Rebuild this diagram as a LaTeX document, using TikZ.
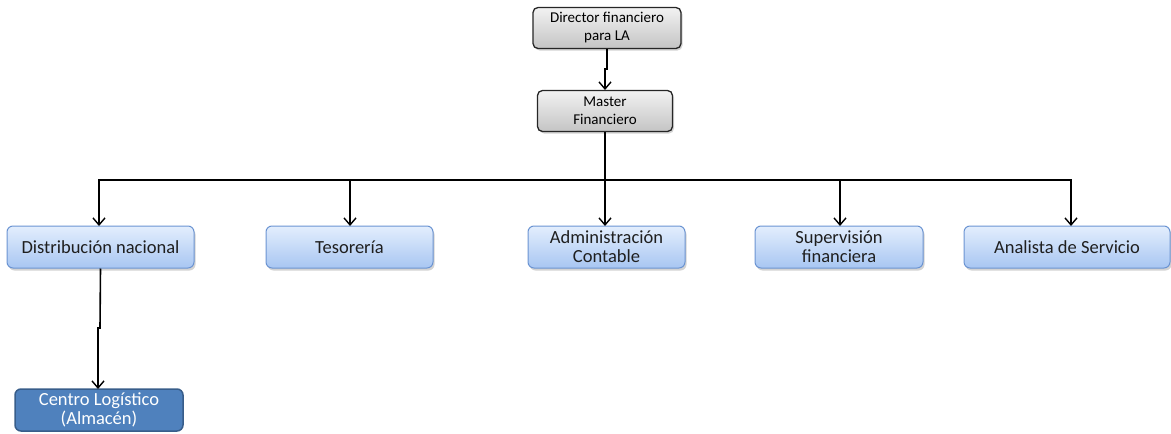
\documentclass[tikz,border=0pt]{standalone}
\usepackage{fontspec}
\setmainfont{Carlito}
\usetikzlibrary{arrows.meta,shadows}
\definecolor{gtop}{HTML}{F2F2F2}
\definecolor{gbot}{HTML}{C4C4C4}
\definecolor{btop}{HTML}{E3EEFD}
\definecolor{bbot}{HTML}{A8C6F2}
\definecolor{bline}{HTML}{6B94D2}
\definecolor{dfill}{HTML}{4F81BD}
\definecolor{dline}{HTML}{385D8A}
\tikzset{
  x=1pt,y=-1pt,
  graybox/.style={draw=black!85,line width=1.3pt,rounded corners=5pt,top color=gtop,bottom color=gbot,
    minimum height=41pt,align=center,font=\fontsize{15}{18}\selectfont,inner sep=2pt,
    drop shadow={shadow xshift=1.5pt,shadow yshift=-2pt,opacity=0.35}},
  bluebox/.style={draw=bline,line width=1pt,rounded corners=6pt,top color=btop,bottom color=bbot,
    minimum height=42pt,align=center,font=\fontsize{18.5}{19}\selectfont,inner sep=1pt,text=black!88,
    drop shadow={shadow xshift=1.5pt,shadow yshift=-2.5pt,opacity=0.35}},
  darkbox/.style={draw=dline,line width=1.5pt,rounded corners=6pt,fill=dfill,
    minimum height=42pt,align=center,font=\fontsize{18.5}{19}\selectfont,inner sep=1pt,text=white},
  conn/.style={draw=black,line width=1.6pt,-{Straight Barb[length=7pt,width=12pt,line width=1.4pt]}},
  plain/.style={draw=black,line width=1.6pt}
}
\begin{document}
\begin{tikzpicture}
\useasboundingbox (0,0) rectangle (1171,434);
\node[graybox,minimum width=148pt] (dir) at (607,28) {Director financiero\\para LA};
\node[graybox,minimum width=135pt] (mas) at (605,111) {Master\\Financiero};
\node[bluebox,minimum width=187pt] (dist) at (100.5,247) {Distribución nacional};
\node[bluebox,minimum width=167pt] (tes) at (349.5,247) {Tesorería};
\node[bluebox,minimum width=157pt] (adm) at (606.5,247) {Administración\\Contable};
\node[bluebox,minimum width=168pt] (sup) at (839,247) {Supervisión\\financiera};
\node[bluebox,minimum width=206pt] (ana) at (1067,247) {Analista de Servicio};
\node[darkbox,minimum width=168pt] (cen) at (99,410) {Centro Logístico\\(Almacén)};
\coordinate (bus) at (605,180);
\draw[conn] (dir.south) -- ++(0,20) -| (605,90);
\draw[plain] (mas.south) -- (bus);
\draw[conn] (bus) -| (99,226);
\draw[conn] (bus) -| (350,226);
\draw[conn] (bus) -- (605,226);
\draw[conn] (bus) -| (840,226);
\draw[conn] (bus) -| (1071,226);
\draw[conn] (dist.south) -- (100,328) -- (98,328) -- (98,389);
\end{tikzpicture}
\end{document}
